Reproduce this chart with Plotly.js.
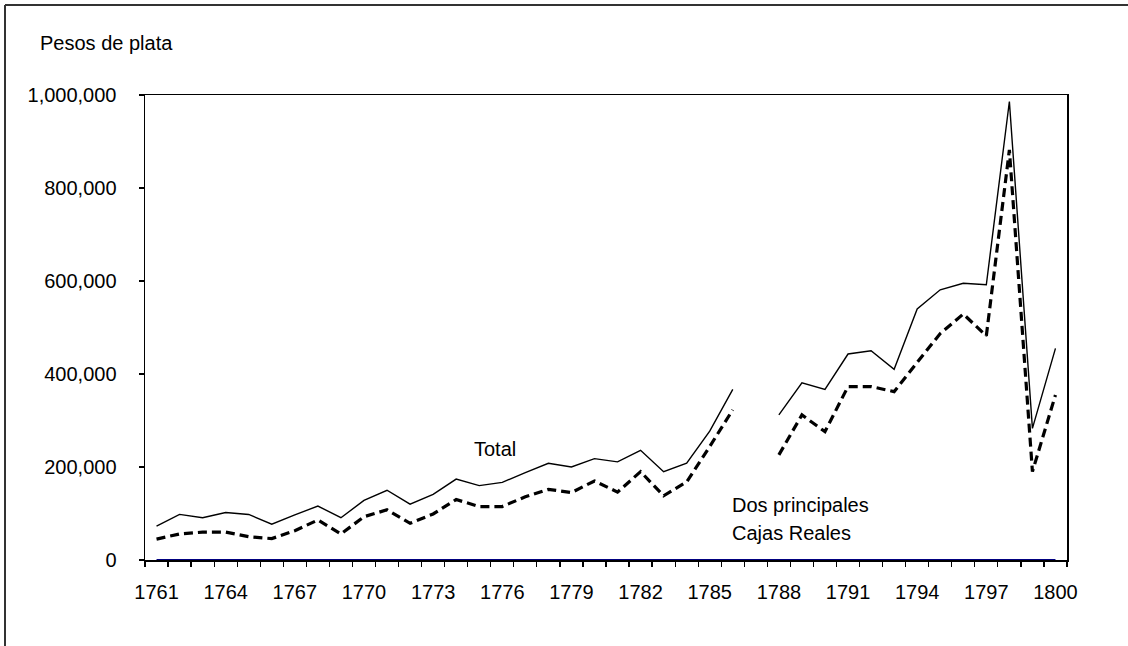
<!DOCTYPE html>
<html>
<head>
<meta charset="utf-8">
<script src="https://cdn.plot.ly/plotly-3.0.1.min.js"></script>
<style>
html,body{margin:0;padding:0;background:#fff;}
#chart{width:1128px;height:646px;}
</style>
</head>
<body>
<div id="chart"></div>
<script>
const years = [1761,1762,1763,1764,1765,1766,1767,1768,1769,1770,
               1771,1772,1773,1774,1775,1776,1777,1778,1779,1780,
               1781,1782,1783,1784,1785,1786,1787,1788,1789,1790,
               1791,1792,1793,1794,1795,1796,1797,1798,1799,1800];

const total = [73000,98000,91000,102000,98000,77000,97000,116000,91000,128000,
               150000,120000,141000,174000,160000,167000,188000,208000,200000,218000,
               211000,236000,190000,208000,277000,367000,null,312000,381000,367000,
               443000,450000,410000,540000,581000,595000,592000,986000,283000,455000];

const dosCajas = [45000,56000,60000,60000,50000,46000,63000,86000,56000,93000,
                  108000,79000,99000,130000,115000,115000,136000,152000,145000,170000,
                  146000,190000,138000,168000,244000,323000,null,226000,312000,276000,
                  373000,373000,362000,425000,487000,529000,482000,882000,190000,355000];

const baseline = years.map(() => 0);

const tickYears = [1761,1764,1767,1770,1773,1776,1779,1782,1785,1788,1791,1794,1797,1800];
const tickLabels = tickYears.map(String);
const boundaries = [];
for (let i = 0; i <= years.length; i++) boundaries.push(years[0] - 0.5 + i);

const FONT = "Liberation Sans, Arial, sans-serif";

const traces = [
  {x: years, y: baseline, type: 'scatter', mode: 'lines', name: 'base',
   line: {color: '#000080', width: 2.2}, cliponaxis: false, hoverinfo: 'skip'},
  {x: years, y: total, type: 'scatter', mode: 'lines', name: 'Total',
   line: {color: '#000', width: 1.4}, connectgaps: false, hoverinfo: 'skip'},
  {x: years, y: dosCajas, type: 'scatter', mode: 'lines', name: 'Dos principales Cajas Reales',
   line: {color: '#000', width: 3.2, dash: '9px,5px'}, connectgaps: false, hoverinfo: 'skip'},
  {x: tickYears, y: tickYears.map(() => null), xaxis: 'x2', type: 'scatter', mode: 'lines',
   showlegend: false, hoverinfo: 'skip'}
];

const layout = {
  width: 1128, height: 646,
  margin: {l: 145, r: 61, t: 95, b: 86},
  paper_bgcolor: '#fff', plot_bgcolor: '#fff',
  showlegend: false,
  font: {family: FONT, size: 20, color: '#000'},
  xaxis: {
    range: [1760.5, 1800.5], tickmode: 'array', tickvals: boundaries,
    showticklabels: false, ticks: 'outside', ticklen: 5, tickwidth: 1.3, tickcolor: '#000',
    showline: true, linecolor: '#000', linewidth: 1.5, mirror: true, layer: 'below traces',
    showgrid: false, zeroline: false, fixedrange: true
  },
  xaxis2: {
    overlaying: 'x', side: 'bottom', range: [1760.5, 1800.5],
    tickmode: 'array', tickvals: tickYears, ticktext: tickLabels,
    ticks: '', showline: false, showgrid: false, zeroline: false,
    ticklabelstandoff: 18, tickfont: {family: FONT, size: 20, color: '#000'}, fixedrange: true
  },
  yaxis: {
    range: [0, 1000000], tickmode: 'linear', tick0: 0, dtick: 200000, tickformat: ',d',
    ticks: 'outside', ticklen: 5, tickwidth: 1.3, tickcolor: '#000',
    showline: true, linecolor: '#000', linewidth: 1.5, mirror: true,
    showgrid: false, zeroline: false, ticklabelstandoff: 18,
    tickfont: {family: FONT, size: 20, color: '#000'}, fixedrange: true
  },
  annotations: [
    {text: 'Pesos de plata', xref: 'paper', yref: 'paper', x: (38 - 145) / 922, y: (560 - 43) / 465,
     xanchor: 'left', yanchor: 'middle', showarrow: false, font: {family: FONT, size: 20, color: '#000'}},
    {text: 'Total', xref: 'x', yref: 'y', x: 1775.7, y: 239000,
     xanchor: 'center', yanchor: 'middle', showarrow: false, font: {family: FONT, size: 20, color: '#000'}},
    {text: 'Dos principales', xref: 'x', yref: 'y', x: 1785.9, y: 118000,
     xanchor: 'left', yanchor: 'middle', showarrow: false, font: {family: FONT, size: 20, color: '#000'}},
    {text: 'Cajas Reales', xref: 'x', yref: 'y', x: 1785.9, y: 58000,
     xanchor: 'left', yanchor: 'middle', showarrow: false, font: {family: FONT, size: 20, color: '#000'}},
    {text: '<b>(1761-1800)</b>', xref: 'paper', yref: 'paper', x: (590 - 145) / 922, y: (560 - 3) / 465,
     xanchor: 'center', yanchor: 'bottom', showarrow: false, font: {family: FONT, size: 26, color: '#000'}}
  ],
  shapes: [
    {type: 'line', xref: 'paper', yref: 'paper', x0: (5 - 145) / 922, x1: (5 - 145) / 922,
     y0: (560 - 5) / 465, y1: (560 - 700) / 465, line: {color: '#333', width: 2}},
    {type: 'line', xref: 'paper', yref: 'paper', x0: (5 - 145) / 922, x1: (1140 - 145) / 922,
     y0: (560 - 5) / 465, y1: (560 - 5) / 465, line: {color: '#333', width: 2}}
  ]
};

Plotly.newPlot('chart', traces, layout, {displayModeBar: false, staticPlot: true});
</script>
</body>
</html>
